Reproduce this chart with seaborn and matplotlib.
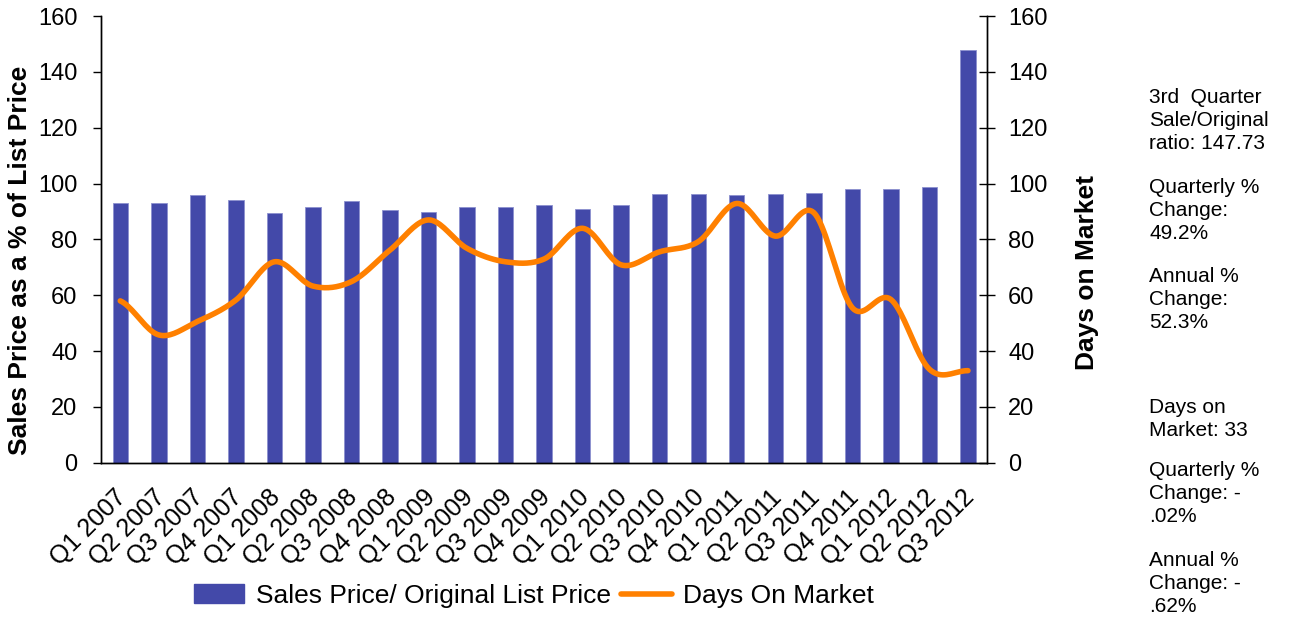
import numpy as np
import pandas as pd
import seaborn as sns
from matplotlib import pyplot as plt
from matplotlib import transforms
from matplotlib.patches import Patch
from matplotlib.lines import Line2D

# data
quarters = ["Q1 2007", "Q2 2007", "Q3 2007", "Q4 2007",
            "Q1 2008", "Q2 2008", "Q3 2008", "Q4 2008",
            "Q1 2009", "Q2 2009", "Q3 2009", "Q4 2009",
            "Q1 2010", "Q2 2010", "Q3 2010", "Q4 2010",
            "Q1 2011", "Q2 2011", "Q3 2011", "Q4 2011",
            "Q1 2012", "Q2 2012", "Q3 2012"]
sale_ratio = [92.9, 92.9, 95.9, 94.1, 89.5, 91.5, 93.7, 90.4, 89.9, 91.5, 91.5, 92.2,
              90.9, 92.2, 96.2, 96.2, 95.9, 96.4, 96.6, 98.2, 98.0, 98.7, 147.73]
days_on_market = [58.0, 45.8, 50.6, 58.3, 72.0, 63.3, 64.9, 76.2, 87.0, 76.8, 72.0, 73.0,
                  84.0, 70.9, 75.6, 79.2, 92.9, 81.2, 89.6, 55.5, 58.5, 33.5, 33.0]
side_notes = ["3rd  Quarter\nSale/Original\nratio: 147.73",
              "Quarterly %\nChange:\n49.2%",
              "Annual %\nChange:\n52.3%",
              "Days on\nMarket: 33",
              "Quarterly %\nChange: -\n.02%",
              "Annual %\nChange: -\n.62%"]

BAR_COLOR = "#4349A9"
LINE_COLOR = "#FF8000"


def smooth(y, steps=20):
    """Catmull-Rom curve through the points, like Excel's smoothed line"""
    y = np.asarray(y, dtype=float)
    p = np.concatenate([[y[0]], y, [y[-1]]])
    xs, ys = [], []
    for i in range(len(y) - 1):
        p0, p1, p2, p3 = p[i], p[i + 1], p[i + 2], p[i + 3]
        t = np.linspace(0, 1, steps, endpoint=False)
        yy = 0.5 * (2 * p1 + (-p0 + p2) * t + (2 * p0 - 5 * p1 + 4 * p2 - p3) * t ** 2
                    + (-p0 + 3 * p1 - 3 * p2 + p3) * t ** 3)
        xs.append(i + t)
        ys.append(yy)
    xs.append([len(y) - 1])
    ys.append([y[-1]])
    return np.concatenate(xs), np.concatenate(ys)


sns.set_style("white")
plt.rcParams['font.family'] = ['Liberation Sans', 'DejaVu Sans']
plt.rcParams.update({"text.color": "black", "axes.labelcolor": "black",
                     "xtick.color": "black", "ytick.color": "black"})

df = pd.DataFrame({"quarter": quarters, "ratio": sale_ratio, "days": days_on_market})

fig = plt.figure(figsize=(12.9, 6.22), dpi=100)
ax = fig.add_axes([0.0783, 0.256, 0.687, 0.718])

sns.barplot(data=df, x="quarter", y="ratio", color=BAR_COLOR, width=0.4,
            saturation=1, edgecolor="#8C90CF", linewidth=0.6, ax=ax)
ax.set_ylim(0, 160)
ax.set_xlim(-0.5, len(quarters) - 0.5)
ax.set_yticks(range(0, 161, 20))
ax.set_xlabel("")
ax.set_ylabel("Sales Price as a % of List Price", fontsize=19, fontweight="bold")
ax.yaxis.set_label_coords(-0.078, 0.454)
ax.tick_params(axis="y", labelsize=17, direction="out", length=6, width=1, pad=11)
ax.set_xticks(range(len(quarters)))
ax.set_xticklabels(quarters, rotation=45, ha="right", rotation_mode="anchor", fontsize=18)
ax.tick_params(axis="x", which="major", length=0, pad=16)
shift = transforms.ScaledTranslation(-6 / 100, 0, fig.dpi_scale_trans)
for lab in ax.get_xticklabels():
    lab.set_transform(lab.get_transform() + shift)
ax.set_xticks(np.arange(-0.5, len(quarters), 1), minor=True)
ax.tick_params(axis="x", which="minor", direction="out", length=6, width=1)

ax2 = ax.twinx()
xs, ys = smooth(df["days"])
ax2.plot(xs, ys, color=LINE_COLOR, linewidth=4, solid_capstyle="round")
ax2.set_ylim(0, 160)
ax2.set_yticks(range(0, 161, 20))
ax2.set_ylabel("Days on Market", fontsize=19, fontweight="bold")
ax2.yaxis.set_label_coords(1.099, 0.427)
ax2.tick_params(axis="y", labelsize=17, direction="inout", length=12, width=1, pad=9)

for a in (ax, ax2):
    a.spines["top"].set_visible(False)
    for s in ("left", "right", "bottom"):
        a.spines[s].set_color("black")
        a.spines[s].set_linewidth(1)

handles = [Patch(facecolor=BAR_COLOR, edgecolor=BAR_COLOR),
           Line2D([0], [0], color=LINE_COLOR, linewidth=4)]
fig.legend(handles, ["Sales Price/ Original List Price", "Days On Market"],
           loc="center", bbox_to_anchor=(0.414, 0.042), ncol=2, frameon=False,
           fontsize=19, handlelength=1.9, handletextpad=0.45, columnspacing=0.4)

note_top = [88, 178, 267, 398, 461, 551]
for txt, top in zip(side_notes, note_top):
    fig.text(0.891, 1 - top / 622, txt, fontsize=15, va="top", ha="left", linespacing=1.28)

fig.savefig("out.png", dpi=100)
